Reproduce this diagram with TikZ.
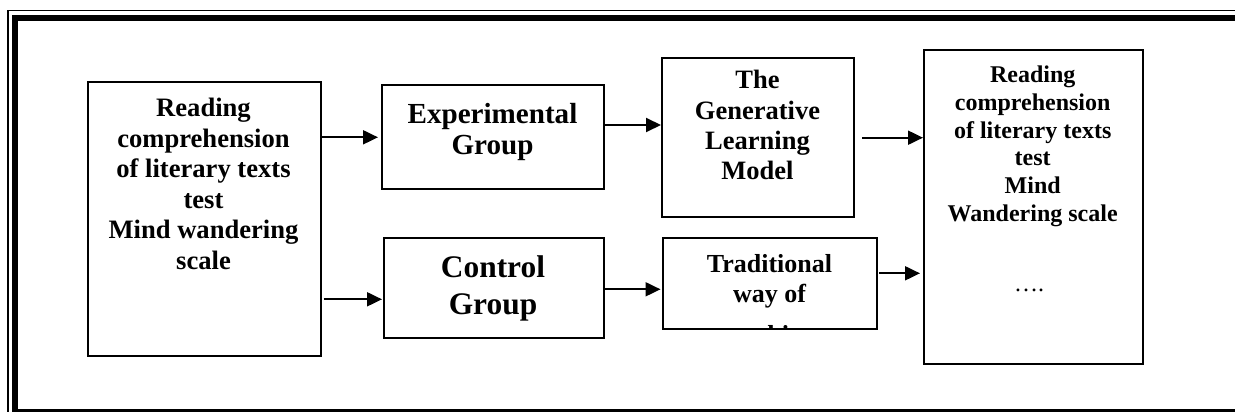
\documentclass[tikz,border=0pt]{standalone}
\usepackage{fontspec}
\setmainfont{Liberation Serif}
\usetikzlibrary{arrows.meta,calc}
\begin{document}
\begin{tikzpicture}[x=1pt,y=-1pt,
  box/.style={draw,line width=2pt,rectangle,inner sep=0pt,anchor=north west},
  txt/.style={anchor=north,align=center,inner sep=0pt},
  arr/.style={line width=2pt,-{Triangle[length=15pt,width=14pt]}}]
\useasboundingbox (0,0) rectangle (1235,412);
\clip (0,0) rectangle (1235,412);
% page frame
\draw[line width=1.3pt] (8,10.5) rectangle (1260,430);
\draw[line width=6.5pt] (15.2,18.2) rectangle (1260,412.5);
% boxes
\node[box,minimum width=233pt,minimum height=274pt] (left) at (87,81) {};
\node[box,minimum width=222pt,minimum height=104pt] (exp) at (381,84) {};
\node[box,minimum width=192pt,minimum height=159pt] (gen) at (661,57) {};
\node[box,minimum width=219pt,minimum height=314pt] (right) at (923,49) {};
\node[box,minimum width=220pt,minimum height=100pt] (ctrl) at (383,237) {};
\node[box,minimum width=214pt,minimum height=91pt] (trad) at (662,237) {};
% texts
\node[txt,font=\fontsize{26.6}{30.6}\selectfont\bfseries] (leftT) at (203.5,97.9)
  {Reading\\comprehension\\of literary texts\\test\\Mind wandering\\scale};
\node[txt,font=\fontsize{29.1}{31.6}\selectfont\bfseries] (expT) at (492.5,102.9)
  {Experimental\\Group};
\node[txt,font=\fontsize{31.4}{37.6}\selectfont\bfseries] (ctrlT) at (493,255.3)
  {Control\\Group};
\node[txt,font=\fontsize{26.5}{30.3}\selectfont\bfseries] (genT) at (757.5,70.3)
  {The\\Generative\\Learning\\Model};
\node[txt,font=\fontsize{24}{27.7}\selectfont\bfseries] (rightT) at (1032.7,66)
  {Reading\\comprehension\\of literary texts\\test\\Mind\\Wandering scale};
\node[anchor=base,inner sep=0pt,font=\fontsize{24}{27.7}\selectfont] (dots) at (1029,291) {….};
\begin{scope}
  \clip (663,238) rectangle (875,327);
  \node[txt,font=\fontsize{26}{30}\selectfont\bfseries] (tradT) at (769.5,254)
    {Traditional\\way of\\[11pt]teaching};
\end{scope}
% connector levels
\coordinate (r1) at (0,137.3);
\coordinate (r2) at (0,299.3);
\coordinate (r3) at (0,125);
\coordinate (r4) at (0,137.7);
\coordinate (r5) at (0,289.3);
\coordinate (r6) at (0,273.3);
% connectors
\draw[arr,shorten >=3pt] (left.east |- r1) -- (exp.west |- r1);
\draw[arr,shorten <=1.5pt,shorten >=1pt] (left.east |- r2) -- (ctrl.west |- r2);
\draw[arr] (exp.east |- r3) -- (gen.west |- r3);
\draw[arr,shorten <=7pt] (gen.east |- r4) -- (right.west |- r4);
\draw[arr,shorten >=1.5pt] ([xshift=-2pt]ctrl.east |- r5) -- (trad.west |- r5);
\draw[arr,shorten <=1pt,shorten >=3pt] (trad.east |- r6) -- (right.west |- r6);
\end{tikzpicture}
\end{document}
